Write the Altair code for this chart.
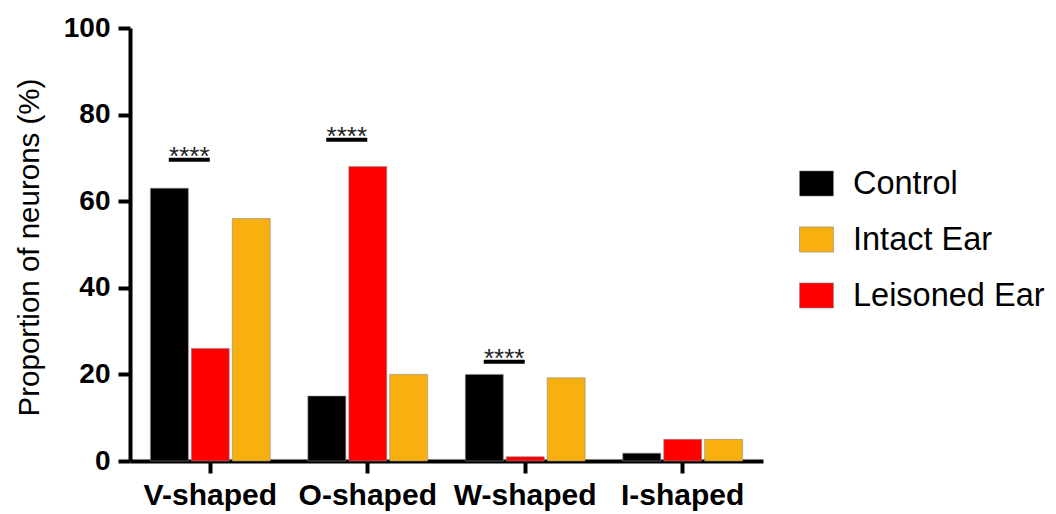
import altair as alt
import pandas as pd

categories = ["V-shaped", "O-shaped", "W-shaped", "I-shaped"]
series_names = ["Control", "Intact Ear", "Leisoned Ear"]
bar_order = ["Control", "Leisoned Ear", "Intact Ear"]
control = [63, 15, 20, 1.8]
intact = [56, 20, 19.2, 5]
lesioned = [26, 68, 1, 5]
colors = ["#000000", "#F7B00F", "#FF0000"]

sig_categories = ["V-shaped", "O-shaped", "W-shaped"]
sig_levels = [69.6, 74.2, 22.9]
sig_label = "****"

rows = []
for i, c in enumerate(categories):
    rows.append({"shape": c, "group": "Control", "value": control[i]})
    rows.append({"shape": c, "group": "Leisoned Ear", "value": lesioned[i]})
    rows.append({"shape": c, "group": "Intact Ear", "value": intact[i]})
df = pd.DataFrame(rows)

sig = pd.DataFrame({"shape": sig_categories, "value": sig_levels,
                    "label": [sig_label] * 3})

FONT = "Liberation Sans"

x_enc = alt.X("shape:N", sort=categories,
              scale=alt.Scale(paddingInner=0, paddingOuter=0.01),
              axis=alt.Axis(title=None, labelAngle=0, tickSize=12, tickWidth=4,
                            domainWidth=4, domainColor="black", tickColor="black",
                            labelFontSize=30, labelFontWeight="bold", labelColor="black",
                            labelPadding=7, labelFont=FONT, grid=False))
xoff_enc = alt.XOffset("group:N", sort=bar_order,
                       scale=alt.Scale(domain=bar_order, paddingInner=0.073, paddingOuter=0.46))
y_scale = alt.Scale(domain=[0, 100])

bars = alt.Chart(df).mark_bar(stroke="#8a8a8a", strokeWidth=0.6).encode(
    x=x_enc,
    xOffset=xoff_enc,
    y=alt.Y("value:Q", scale=y_scale,
            axis=alt.Axis(values=[0, 20, 40, 60, 80, 100], grid=False, tickSize=12,
                          tickWidth=4, domainWidth=4, domainColor="black", tickColor="black",
                          labelFontSize=28, labelFontWeight="bold", labelColor="black",
                          labelPadding=8, labelFont=FONT,
                          title="Proportion of neurons (%)", titleFontSize=29.5,
                          titleFontWeight="normal", titleFont=FONT, titleColor="black",
                          titleAngle=270, titleBaseline="middle", titleAlign="center",
                          titleX=-101, titleY=219)),
    color=alt.Color("group:N", scale=alt.Scale(domain=series_names, range=colors),
                    legend=alt.Legend(orient="none", legendX=669, legendY=138, title=None,
                                      symbolType="M-1,-0.74H1V0.74H-1Z", symbolSize=1156,
                                      labelFontSize=32.5, labelFont=FONT, labelColor="black",
                                      labelLimit=400, rowPadding=22, labelOffset=19,
                                      symbolStrokeColor="#8a8a8a", symbolStrokeWidth=0.6,
                                      padding=0)),
)

sig_bars = alt.Chart(sig).mark_tick(size=41, thickness=4, xOffset=-21, color="black",
                                    opacity=1).encode(
    x=alt.X("shape:N", sort=categories),
    y=alt.Y("value:Q", scale=y_scale),
)

sig_text = alt.Chart(sig).mark_text(dx=-21, dy=5, baseline="alphabetic", fontSize=26,
                                     font=FONT, color="#222222").encode(
    x=alt.X("shape:N", sort=categories),
    y=alt.Y("value:Q", scale=y_scale),
    text="label:N",
)

chart = alt.layer(bars, sig_bars, sig_text).properties(
    width=633, height=433,
    padding={"left": 122, "top": 20, "right": 285, "bottom": 50},
    autosize=alt.AutoSizeParams(type="none"),
    view=alt.ViewBackground(strokeOpacity=0, strokeWidth=0),
).configure_view(strokeOpacity=0, strokeWidth=0).configure(font=FONT)

chart.save("out.html", embed_options={"renderer": "svg", "actions": False})
